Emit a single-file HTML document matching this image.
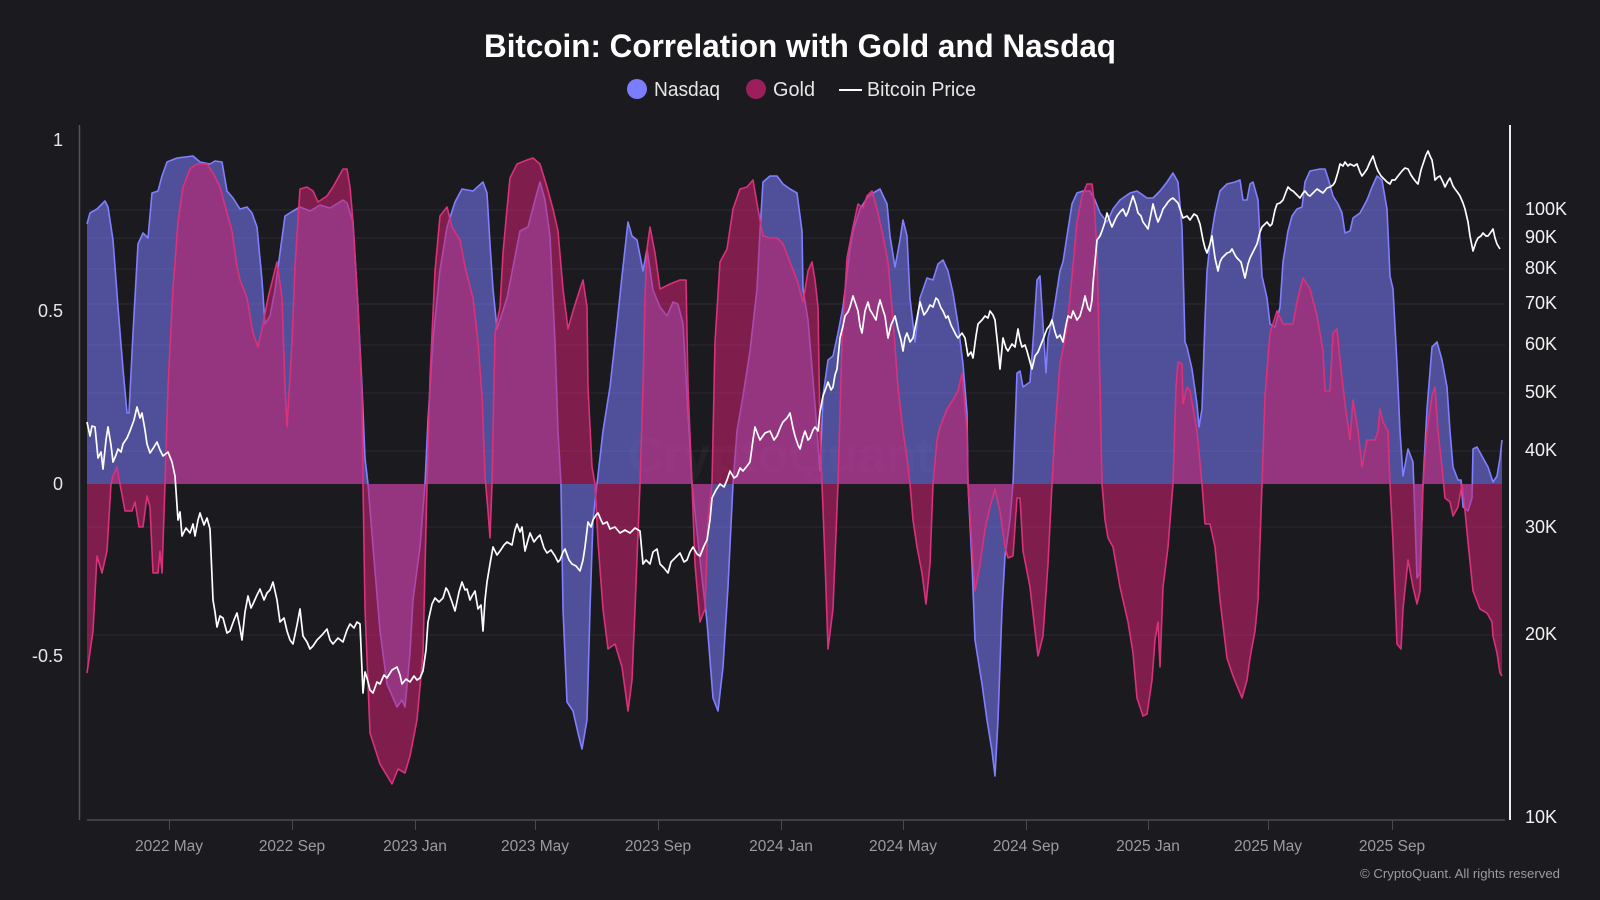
<!DOCTYPE html>
<html><head><meta charset="utf-8"><style>
html,body{margin:0;padding:0;background:#1b1a1f;}
svg{display:block;}
text{font-family:"Liberation Sans",Arial,sans-serif;}
</style></head><body>
<svg width="1600" height="900" viewBox="0 0 1600 900" xmlns="http://www.w3.org/2000/svg">
<rect width="1600" height="900" fill="#1b1a1f"/>
<text x="800" y="57" text-anchor="middle" font-size="32" font-weight="bold" fill="#ffffff" textLength="632" lengthAdjust="spacingAndGlyphs">Bitcoin: Correlation with Gold and Nasdaq</text>
<circle cx="637" cy="89" r="10" fill="#7c7cff"/>
<text x="654" y="96" font-size="20" fill="#e6e6e6" textLength="66" lengthAdjust="spacingAndGlyphs">Nasdaq</text>
<circle cx="756" cy="89" r="10" fill="#9c1f5c"/>
<text x="773" y="96" font-size="20" fill="#e6e6e6" textLength="42" lengthAdjust="spacingAndGlyphs">Gold</text>
<line x1="839" y1="90" x2="862" y2="90" stroke="#ffffff" stroke-width="2"/>
<text x="867" y="96" font-size="20" fill="#e6e6e6" textLength="109" lengthAdjust="spacingAndGlyphs">Bitcoin Price</text>
<g stroke="#2a2a30" stroke-width="1">
<line x1="87" y1="210" x2="1505" y2="210"/><line x1="87" y1="238" x2="1505" y2="238"/><line x1="87" y1="269" x2="1505" y2="269"/><line x1="87" y1="304" x2="1505" y2="304"/><line x1="87" y1="345" x2="1505" y2="345"/><line x1="87" y1="393" x2="1505" y2="393"/><line x1="87" y1="451" x2="1505" y2="451"/><line x1="87" y1="527" x2="1505" y2="527"/><line x1="87" y1="635" x2="1505" y2="635"/>
</g>
<text x="780" y="472" text-anchor="middle" font-size="50" font-weight="bold" fill="#ffffff" fill-opacity="0.03">CryptoQuant</text>
<polygon fill="#7c7cff" fill-opacity="0.55" points="87,484 87,224 90,213 97,209 105,201 108,207 113,240 118,307 123,369 127,413 129,413 133,333 138,244 143,233 148,238 152,193 158,191 162,176 167,162 177,158 193,156 200,162 210,164 215,161 222,162 227,191 233,198 240,209 247,207 252,213 257,227 262,280 265,324 270,316 275,290 280,253 285,216 293,211 300,207 310,211 320,205 330,208 343,200 347,203 353,222 358,307 362,387 365,458 368,484 373,547 380,631 387,684 397,707 402,700 405,707 410,653 413,600 420,547 425,484 428,420 433,340 440,270 447,227 455,202 462,189 473,191 483,182 487,193 490,244 493,289 497,329 507,298 520,231 528,227 535,200 540,182 545,200 550,236 555,342 558,431 561,484 563,609 567,702 573,711 578,733 582,749 587,720 590,609 593,520 597,484 603,431 610,387 617,324 622,276 628,222 632,236 637,240 643,271 647,249 653,290 660,307 667,316 673,302 678,304 683,324 687,396 692,484 700,560 707,622 713,698 718,711 723,667 728,587 733,484 737,431 743,396 750,351 757,289 760,231 763,182 770,176 777,176 783,184 790,189 797,193 802,231 803,289 808,320 815,404 820,471 823,396 828,360 833,356 838,333 843,307 850,249 853,231 860,209 867,198 873,193 880,189 887,204 890,236 895,267 900,240 903,220 907,236 910,298 915,342 920,298 927,278 933,280 938,264 943,260 948,271 953,293 958,324 963,364 967,413 968,484 972,564 975,640 982,684 987,720 992,751 995,776 998,720 1002,609 1005,556 1010,520 1013,484 1017,373 1020,371 1023,387 1030,382 1033,342 1037,280 1040,276 1043,324 1046,373 1048,338 1053,316 1060,271 1063,262 1067,236 1072,204 1077,193 1083,191 1090,191 1095,200 1100,213 1107,222 1113,209 1120,200 1130,193 1137,191 1147,198 1153,198 1160,191 1167,182 1173,173 1178,182 1182,227 1185,342 1187,347 1192,369 1197,404 1199,427 1202,409 1205,320 1207,271 1210,244 1215,213 1220,191 1227,184 1235,182 1240,180 1243,200 1247,200 1250,184 1253,182 1258,200 1262,276 1267,298 1270,324 1275,327 1280,307 1283,262 1288,231 1292,216 1297,209 1302,207 1305,182 1310,171 1320,169 1325,169 1328,178 1333,196 1338,204 1342,213 1345,233 1350,231 1353,218 1360,213 1367,200 1372,187 1377,176 1382,180 1387,209 1390,276 1393,289 1397,364 1400,431 1403,476 1408,449 1413,462 1417,578 1420,573 1423,484 1427,409 1432,347 1437,342 1442,360 1447,387 1450,431 1453,467 1458,480 1461,480 1463,507 1468,511 1472,498 1473,449 1477,447 1483,458 1488,467 1493,482 1497,476 1500,458 1502,440 1502,484"/>
<polyline fill="none" stroke="#8080ff" stroke-width="1.6" stroke-linejoin="round" points="87,224 90,213 97,209 105,201 108,207 113,240 118,307 123,369 127,413 129,413 133,333 138,244 143,233 148,238 152,193 158,191 162,176 167,162 177,158 193,156 200,162 210,164 215,161 222,162 227,191 233,198 240,209 247,207 252,213 257,227 262,280 265,324 270,316 275,290 280,253 285,216 293,211 300,207 310,211 320,205 330,208 343,200 347,203 353,222 358,307 362,387 365,458 368,484 373,547 380,631 387,684 397,707 402,700 405,707 410,653 413,600 420,547 425,484 428,420 433,340 440,270 447,227 455,202 462,189 473,191 483,182 487,193 490,244 493,289 497,329 507,298 520,231 528,227 535,200 540,182 545,200 550,236 555,342 558,431 561,484 563,609 567,702 573,711 578,733 582,749 587,720 590,609 593,520 597,484 603,431 610,387 617,324 622,276 628,222 632,236 637,240 643,271 647,249 653,290 660,307 667,316 673,302 678,304 683,324 687,396 692,484 700,560 707,622 713,698 718,711 723,667 728,587 733,484 737,431 743,396 750,351 757,289 760,231 763,182 770,176 777,176 783,184 790,189 797,193 802,231 803,289 808,320 815,404 820,471 823,396 828,360 833,356 838,333 843,307 850,249 853,231 860,209 867,198 873,193 880,189 887,204 890,236 895,267 900,240 903,220 907,236 910,298 915,342 920,298 927,278 933,280 938,264 943,260 948,271 953,293 958,324 963,364 967,413 968,484 972,564 975,640 982,684 987,720 992,751 995,776 998,720 1002,609 1005,556 1010,520 1013,484 1017,373 1020,371 1023,387 1030,382 1033,342 1037,280 1040,276 1043,324 1046,373 1048,338 1053,316 1060,271 1063,262 1067,236 1072,204 1077,193 1083,191 1090,191 1095,200 1100,213 1107,222 1113,209 1120,200 1130,193 1137,191 1147,198 1153,198 1160,191 1167,182 1173,173 1178,182 1182,227 1185,342 1187,347 1192,369 1197,404 1199,427 1202,409 1205,320 1207,271 1210,244 1215,213 1220,191 1227,184 1235,182 1240,180 1243,200 1247,200 1250,184 1253,182 1258,200 1262,276 1267,298 1270,324 1275,327 1280,307 1283,262 1288,231 1292,216 1297,209 1302,207 1305,182 1310,171 1320,169 1325,169 1328,178 1333,196 1338,204 1342,213 1345,233 1350,231 1353,218 1360,213 1367,200 1372,187 1377,176 1382,180 1387,209 1390,276 1393,289 1397,364 1400,431 1403,476 1408,449 1413,462 1417,578 1420,573 1423,484 1427,409 1432,347 1437,342 1442,360 1447,387 1450,431 1453,467 1458,480 1461,480 1463,507 1468,511 1472,498 1473,449 1477,447 1483,458 1488,467 1493,482 1497,476 1500,458 1502,440"/>
<polygon fill="#c8236e" fill-opacity="0.58" points="87,484 87,673 93,631 97,556 102,573 107,551 111,484 113,476 117,467 120,484 125,511 132,511 135,502 139,527 143,527 147,496 150,507 153,573 158,573 160,551 162,573 165,484 168,387 173,289 178,222 183,187 190,169 197,164 207,164 213,173 220,187 227,213 232,231 237,267 240,280 247,298 253,333 258,347 263,324 268,298 277,262 282,298 285,387 287,427 292,342 295,267 300,189 307,187 313,191 318,202 327,196 333,187 338,178 343,169 347,169 350,187 353,222 358,307 362,396 363,484 365,609 370,733 380,764 392,784 398,769 405,773 410,756 417,720 423,653 427,484 430,378 435,271 440,216 447,207 452,227 460,240 465,267 473,298 478,342 482,396 485,476 488,511 490,538 492,484 495,333 500,307 503,253 507,209 510,178 517,164 527,160 533,158 540,164 547,187 553,209 558,231 563,289 568,329 573,311 580,289 583,280 587,307 588,387 592,467 595,484 598,542 603,609 608,649 615,644 622,667 628,711 632,680 635,609 640,484 643,387 645,298 647,249 650,227 655,253 660,289 670,284 680,280 686,280 688,387 692,484 695,564 700,622 705,609 708,520 712,484 715,342 720,262 727,249 733,209 740,189 747,187 753,180 758,209 763,236 770,238 777,238 783,244 790,262 797,280 803,302 808,271 812,262 815,280 818,307 820,431 822,484 825,560 828,649 833,609 838,484 842,342 847,258 853,227 858,204 863,208 867,196 872,191 877,209 883,236 888,262 893,320 898,387 903,431 907,458 910,484 913,520 917,547 922,573 926,604 930,564 933,484 937,440 940,427 947,409 953,400 958,391 962,373 967,431 968,484 972,547 975,591 980,564 985,529 990,507 995,489 1000,511 1005,547 1008,558 1013,556 1017,498 1020,498 1023,551 1030,587 1035,631 1038,656 1043,636 1048,564 1052,484 1055,431 1060,364 1067,329 1072,276 1077,222 1082,196 1087,184 1092,184 1094,200 1097,253 1100,387 1102,484 1105,520 1108,538 1113,547 1120,587 1128,622 1133,653 1137,698 1143,716 1147,714 1152,680 1155,640 1158,622 1160,667 1163,587 1168,547 1173,484 1176,387 1178,362 1182,364 1183,404 1187,387 1190,391 1197,431 1202,484 1205,524 1210,524 1215,547 1220,600 1227,658 1233,676 1242,698 1247,680 1250,658 1255,631 1258,600 1262,484 1265,396 1270,333 1277,311 1283,324 1293,324 1297,302 1303,278 1310,289 1317,316 1323,351 1325,391 1330,391 1333,333 1337,329 1340,360 1345,404 1350,440 1353,400 1358,431 1362,467 1367,440 1375,440 1378,431 1380,409 1383,422 1388,431 1390,484 1393,542 1397,644 1401,649 1403,609 1408,560 1413,587 1417,604 1420,591 1423,484 1427,431 1432,396 1435,387 1438,431 1442,467 1445,498 1450,502 1453,516 1458,507 1462,484 1465,511 1468,542 1473,591 1480,609 1487,613 1492,622 1493,636 1497,653 1500,673 1502,676 1502,484"/>
<polyline fill="none" stroke="#d8327a" stroke-width="1.6" stroke-linejoin="round" points="87,673 93,631 97,556 102,573 107,551 111,484 113,476 117,467 120,484 125,511 132,511 135,502 139,527 143,527 147,496 150,507 153,573 158,573 160,551 162,573 165,484 168,387 173,289 178,222 183,187 190,169 197,164 207,164 213,173 220,187 227,213 232,231 237,267 240,280 247,298 253,333 258,347 263,324 268,298 277,262 282,298 285,387 287,427 292,342 295,267 300,189 307,187 313,191 318,202 327,196 333,187 338,178 343,169 347,169 350,187 353,222 358,307 362,396 363,484 365,609 370,733 380,764 392,784 398,769 405,773 410,756 417,720 423,653 427,484 430,378 435,271 440,216 447,207 452,227 460,240 465,267 473,298 478,342 482,396 485,476 488,511 490,538 492,484 495,333 500,307 503,253 507,209 510,178 517,164 527,160 533,158 540,164 547,187 553,209 558,231 563,289 568,329 573,311 580,289 583,280 587,307 588,387 592,467 595,484 598,542 603,609 608,649 615,644 622,667 628,711 632,680 635,609 640,484 643,387 645,298 647,249 650,227 655,253 660,289 670,284 680,280 686,280 688,387 692,484 695,564 700,622 705,609 708,520 712,484 715,342 720,262 727,249 733,209 740,189 747,187 753,180 758,209 763,236 770,238 777,238 783,244 790,262 797,280 803,302 808,271 812,262 815,280 818,307 820,431 822,484 825,560 828,649 833,609 838,484 842,342 847,258 853,227 858,204 863,208 867,196 872,191 877,209 883,236 888,262 893,320 898,387 903,431 907,458 910,484 913,520 917,547 922,573 926,604 930,564 933,484 937,440 940,427 947,409 953,400 958,391 962,373 967,431 968,484 972,547 975,591 980,564 985,529 990,507 995,489 1000,511 1005,547 1008,558 1013,556 1017,498 1020,498 1023,551 1030,587 1035,631 1038,656 1043,636 1048,564 1052,484 1055,431 1060,364 1067,329 1072,276 1077,222 1082,196 1087,184 1092,184 1094,200 1097,253 1100,387 1102,484 1105,520 1108,538 1113,547 1120,587 1128,622 1133,653 1137,698 1143,716 1147,714 1152,680 1155,640 1158,622 1160,667 1163,587 1168,547 1173,484 1176,387 1178,362 1182,364 1183,404 1187,387 1190,391 1197,431 1202,484 1205,524 1210,524 1215,547 1220,600 1227,658 1233,676 1242,698 1247,680 1250,658 1255,631 1258,600 1262,484 1265,396 1270,333 1277,311 1283,324 1293,324 1297,302 1303,278 1310,289 1317,316 1323,351 1325,391 1330,391 1333,333 1337,329 1340,360 1345,404 1350,440 1353,400 1358,431 1362,467 1367,440 1375,440 1378,431 1380,409 1383,422 1388,431 1390,484 1393,542 1397,644 1401,649 1403,609 1408,560 1413,587 1417,604 1420,591 1423,484 1427,431 1432,396 1435,387 1438,431 1442,467 1445,498 1450,502 1453,516 1458,507 1462,484 1465,511 1468,542 1473,591 1480,609 1487,613 1492,622 1493,636 1497,653 1500,673 1502,676"/>
<polyline fill="none" stroke="#ffffff" stroke-width="1.7" stroke-linejoin="round" points="87,422 90,436 92,426 95,427 98,458 101,452 103,469 106,440 108,427 111,445 113,462 116,455 118,449 121,452 123,444 127,438 130,431 134,420 137,407 140,418 142,413 145,430 147,444 150,453 154,447 157,442 160,450 163,456 168,452 172,462 175,476 178,520 180,512 182,536 186,528 190,533 193,524 195,536 198,520 200,513 204,525 207,518 210,529 213,600 215,612 217,627 220,616 223,618 227,633 230,631 234,620 237,613 240,628 242,640 245,612 248,596 251,608 253,604 257,595 260,589 264,600 267,593 270,590 273,582 277,600 280,622 284,618 287,631 290,640 293,644 297,625 300,609 303,636 307,642 310,649 313,646 317,640 322,635 327,629 330,640 333,644 338,638 343,642 347,630 350,624 354,628 357,622 360,624 363,693 365,672 367,678 370,690 373,693 377,682 380,684 384,675 387,678 392,670 397,667 400,675 402,684 406,679 410,682 414,676 417,680 420,678 423,671 426,650 428,622 432,604 435,598 439,602 443,598 446,588 448,591 452,602 455,611 459,592 462,582 465,590 467,589 470,600 472,596 475,591 478,609 481,605 483,631 485,600 487,582 490,564 493,547 497,555 500,551 504,545 507,542 512,545 515,530 517,524 520,532 522,527 525,551 528,540 530,533 534,542 537,538 540,535 544,548 547,553 551,550 555,556 558,562 560,560 563,552 565,549 569,560 572,564 576,566 580,571 583,560 585,547 588,522 591,527 593,520 596,515 598,513 601,520 603,524 607,522 610,529 615,527 620,533 625,530 630,533 635,528 640,531 643,564 646,560 650,564 653,552 657,549 660,564 664,568 668,573 671,562 673,560 677,556 680,553 684,562 687,560 690,552 693,547 697,554 700,556 704,546 707,540 710,520 712,498 716,490 720,484 724,487 727,480 730,471 734,478 737,476 740,468 743,471 747,466 750,462 753,440 755,427 758,435 760,440 765,433 770,431 774,440 777,436 781,426 783,422 787,418 790,413 793,428 795,436 798,445 800,449 803,437 805,431 808,440 810,438 813,430 815,427 818,431 820,412 823,396 826,388 828,382 831,390 833,387 835,375 837,369 840,338 843,326 845,316 848,312 850,307 853,296 856,305 858,311 860,326 862,333 865,311 868,302 870,310 872,313 876,320 878,308 880,300 883,310 885,316 888,338 891,325 895,316 898,329 901,340 903,351 905,338 907,333 910,342 913,338 917,318 920,302 924,315 927,311 930,305 933,307 936,298 938,300 941,308 943,311 946,318 948,316 951,325 953,329 956,335 958,338 962,333 965,338 968,356 971,352 973,358 976,336 978,324 982,320 985,316 988,318 990,311 993,315 995,320 998,348 1000,369 1003,338 1006,348 1008,351 1012,344 1015,347 1018,329 1020,340 1022,347 1025,345 1027,351 1030,362 1032,369 1035,356 1038,352 1040,347 1044,337 1047,329 1050,325 1052,320 1055,332 1057,338 1060,335 1063,342 1066,325 1068,316 1071,318 1073,311 1077,320 1080,316 1083,305 1085,296 1088,308 1090,311 1092,300 1093,284 1095,262 1097,240 1100,236 1102,231 1105,222 1107,213 1110,222 1112,227 1115,220 1117,216 1120,212 1123,209 1126,216 1128,212 1131,202 1133,196 1136,205 1138,213 1141,216 1143,222 1146,226 1148,229 1151,214 1153,204 1156,216 1158,222 1161,215 1163,209 1166,205 1168,202 1171,199 1173,198 1176,201 1178,203 1181,212 1183,218 1187,216 1190,220 1194,214 1197,216 1200,224 1203,240 1205,248 1207,253 1210,244 1212,236 1215,258 1218,271 1220,262 1222,258 1225,255 1227,253 1230,252 1232,249 1235,255 1237,258 1241,262 1243,270 1245,278 1248,264 1250,258 1254,250 1257,244 1260,232 1262,227 1265,224 1267,222 1270,226 1272,224 1275,210 1277,204 1280,203 1283,200 1286,192 1288,187 1291,190 1293,191 1297,195 1300,198 1303,193 1305,191 1308,195 1310,196 1314,192 1317,189 1320,191 1323,193 1327,188 1330,187 1333,185 1335,182 1338,172 1340,164 1343,166 1345,162 1348,166 1350,164 1354,166 1357,164 1360,172 1362,176 1365,172 1367,169 1370,162 1373,156 1376,166 1378,171 1381,176 1383,178 1387,182 1390,184 1392,180 1395,180 1398,176 1402,171 1405,168 1408,169 1411,175 1413,178 1416,182 1418,184 1421,170 1423,164 1426,155 1428,151 1430,156 1432,160 1434,172 1435,180 1438,177 1440,176 1443,182 1445,187 1448,181 1450,178 1453,186 1455,189 1458,193 1460,196 1463,203 1465,209 1468,222 1470,236 1472,246 1473,251 1476,242 1478,238 1481,236 1483,233 1486,236 1488,236 1491,232 1493,229 1495,238 1497,244 1500,249"/>
<line x1="79.5" y1="125" x2="79.5" y2="820" stroke="#55545a" stroke-width="1.5"/>
<line x1="87" y1="820" x2="1505" y2="820" stroke="#4a4a50" stroke-width="1.5"/>
<g stroke="#4a4a50" stroke-width="1">
<line x1="169.5" y1="820" x2="169.5" y2="830"/><line x1="292.5" y1="820" x2="292.5" y2="830"/><line x1="415.5" y1="820" x2="415.5" y2="830"/><line x1="535.5" y1="820" x2="535.5" y2="830"/><line x1="658.5" y1="820" x2="658.5" y2="830"/><line x1="781.5" y1="820" x2="781.5" y2="830"/><line x1="903.5" y1="820" x2="903.5" y2="830"/><line x1="1026.5" y1="820" x2="1026.5" y2="830"/><line x1="1148.5" y1="820" x2="1148.5" y2="830"/><line x1="1268.5" y1="820" x2="1268.5" y2="830"/><line x1="1392.5" y1="820" x2="1392.5" y2="830"/>
</g>
<line x1="1510" y1="125" x2="1510" y2="820" stroke="#ececec" stroke-width="2"/>
<g font-size="18" fill="#e6e6e6" text-anchor="end">
<text x="63" y="146">1</text><text x="63" y="317">0.5</text><text x="63" y="490">0</text><text x="63" y="662">-0.5</text>
</g>
<g font-size="18" fill="#f2f2f2">
<text x="1525" y="215">100K</text><text x="1525" y="243">90K</text><text x="1525" y="274">80K</text><text x="1525" y="309">70K</text><text x="1525" y="350">60K</text><text x="1525" y="398">50K</text><text x="1525" y="456">40K</text><text x="1525" y="533">30K</text><text x="1525" y="640">20K</text><text x="1525" y="823">10K</text>
</g>
<g font-size="15.5" fill="#9a9aa2" text-anchor="middle">
<text x="169" y="851">2022 May</text><text x="292" y="851">2022 Sep</text><text x="415" y="851">2023 Jan</text><text x="535" y="851">2023 May</text><text x="658" y="851">2023 Sep</text><text x="781" y="851">2024 Jan</text><text x="903" y="851">2024 May</text><text x="1026" y="851">2024 Sep</text><text x="1148" y="851">2025 Jan</text><text x="1268" y="851">2025 May</text><text x="1392" y="851">2025 Sep</text>
</g>
<text x="1360" y="878" font-size="13" fill="#9a9aa2" textLength="200" lengthAdjust="spacingAndGlyphs">© CryptoQuant. All rights reserved</text>
</svg>
</body></html>
